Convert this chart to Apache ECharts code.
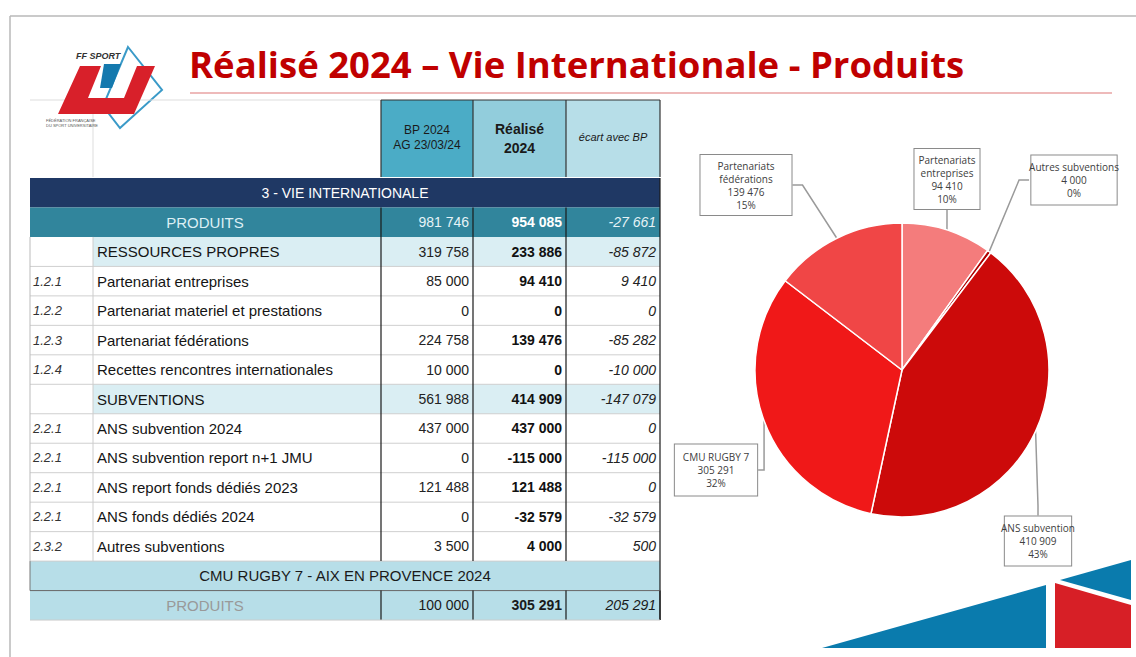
<!DOCTYPE html>
<html>
<head>
<meta charset="utf-8">
<script src="https://cdn.jsdelivr.net/npm/echarts@6/dist/echarts.min.js"></script>
<style>
  html, body { margin: 0; padding: 0; background: #fff; }
  #chart { width: 1136px; height: 657px; }
</style>
</head>
<body>
<div id="chart"></div>
<script>
// Données du tableau
const itemCodes = ['', '1.2.1', '1.2.2', '1.2.3', '1.2.4', '', '2.2.1', '2.2.1', '2.2.1', '2.2.1', '2.3.2'];
const itemLabels = [
  'RESSOURCES PROPRES',
  'Partenariat entreprises',
  'Partenariat materiel et prestations',
  'Partenariat fédérations',
  'Recettes rencontres internationales',
  'SUBVENTIONS',
  'ANS subvention 2024',
  'ANS subvention report n+1 JMU',
  'ANS report fonds dédiés 2023',
  'ANS fonds dédiés 2024',
  'Autres subventions'
];
const itemBP = [319758, 85000, 0, 224758, 10000, 561988, 437000, 0, 121488, 0, 3500];
const itemRealise = [233886, 94410, 0, 139476, 0, 414909, 437000, -115000, 121488, -32579, 4000];
const itemEcart = [-85872, 9410, 0, -85282, -10000, -147079, 0, -115000, 0, -32579, 500];
const subtotalIdx = [0, 5];
const totalProduits = [981746, 954085, -27661];
const cmuProduits = [100000, 305291, 205291];

// Données du camembert
const pieNames = ['Partenariats\nentreprises', 'Autres subventions', 'ANS subvention', 'CMU RUGBY 7', 'Partenariats\nfédérations'];
const pieValues = [94410, 4000, 410909, 305291, 139476];
const pieColors = ['#F47C7C', '#B00000', '#CC0A0A', '#F01818', '#F04646'];
// position et marges des cadres d'étiquettes
const labelPos = [[947, 179], [1074, 180], [1038, 541], [716, 470], [746, 185]];
const labelPad = [[4, 4], [5, 5], [5, 10], [6, 8], [4, 17]];

const fmt = (n) => {
  const s = Math.abs(n).toString().replace(/\B(?=(\d{3})+(?!\d))/g, ' ');
  return (n < 0 ? '-' : '') + s;
};

// Géométrie du tableau
const colX = [30, 93, 381, 473, 566, 660];
const headTop = 100, headBottom = 177;
const rowTop = 178, rowH = 29.47;
const ry = (i) => rowTop + i * rowH;

const els = [];
const rect = (x, y, w, h, fill, z) => els.push({ type: 'rect', z: z || 1, shape: { x, y, width: w, height: h }, style: { fill } });
const line = (x1, y1, x2, y2, stroke, w, z) => els.push({ type: 'line', z: z || 3, shape: { x1, y1, x2, y2 }, style: { stroke, lineWidth: w || 1 } });
const text = (x, y, t, font, fill, align) => els.push({
  type: 'text', z: 5, x, y,
  style: { text: t, font, fill, textAlign: align || 'left', textVerticalAlign: 'middle' }
});

// cadre de la diapositive
line(10, 16, 1136, 16, '#b8b8b8', 1.5);
line(10, 16, 10, 657, '#b8b8b8', 1.5);

// titre
text(189, 64, 'Réalisé 2024 – Vie Internationale - Produits', 'bold 36.5px "Open Sans"', '#C00000');
line(190, 93, 1112, 93, '#E8A3A3', 1.5);

// logo FF SPORT U
els.push({ type: 'polygon', z: 2, shape: { points: [[128, 47], [162, 90], [120, 128], [103, 106]] }, style: { fill: 'none', stroke: '#3A9AC8', lineWidth: 2 } });
els.push({ type: 'polygon', z: 3, shape: { points: [[80, 66], [101, 66], [88, 98], [124, 98], [137, 66], [155, 66], [134, 114], [58, 114]] }, style: { fill: '#D8202A' } });
els.push({ type: 'polygon', z: 4, shape: { points: [[104, 64], [121, 64], [112, 88], [100, 88]] }, style: { fill: '#1479AE' } });
text(76, 56, 'FF SPORT', 'italic bold 9px "Liberation Sans"', '#333');
text(46, 120, 'FÉDÉRATION FRANÇAISE', '4px "Liberation Sans"', '#555');
text(46, 125, 'DU SPORT UNIVERSITAIRE', '4px "Liberation Sans"', '#555');

// en-tête du tableau
line(30, headTop, colX[2], headTop, '#dddddd', 1, 2);
line(colX[1], headTop, colX[1], headBottom, '#dddddd', 1, 2);
rect(colX[2], headTop, colX[3] - colX[2], headBottom - headTop, '#4BACC6');
rect(colX[3], headTop, colX[4] - colX[3], headBottom - headTop, '#92CDDC');
rect(colX[4], headTop, colX[5] - colX[4], headBottom - headTop, '#B7DEE8');
line(colX[2], headTop, colX[5], headTop, '#333', 1);
[2, 3, 4, 5].forEach(c => line(colX[c], headTop, colX[c], headBottom, '#333', 1.2));
text((colX[2] + colX[3]) / 2, 130, 'BP 2024', '12px "Liberation Sans"', '#1a1a1a', 'center');
text((colX[2] + colX[3]) / 2, 145, 'AG 23/03/24', '12px "Liberation Sans"', '#1a1a1a', 'center');
text((colX[3] + colX[4]) / 2, 129, 'Réalisé', 'bold 14px "Liberation Sans"', '#1a1a1a', 'center');
text((colX[3] + colX[4]) / 2, 148, '2024', 'bold 14px "Liberation Sans"', '#1a1a1a', 'center');
text((colX[4] + colX[5]) / 2, 137, 'écart avec BP', 'italic 11px "Liberation Sans"', '#1a1a1a', 'center');

// ligne 3 - VIE INTERNATIONALE
rect(30, ry(0), 630, rowH, '#1F3864');
text(345, ry(0) + rowH / 2, '3 - VIE INTERNATIONALE', '14px "Liberation Sans"', '#ffffff', 'center');

// ligne PRODUITS
rect(30, ry(1), 630, rowH, '#31859C');
text(205, ry(1) + rowH / 2, 'PRODUITS', '15px "Liberation Sans"', '#DCEFF5', 'center');
const valFonts = ['14px "Liberation Sans"', 'bold 14px "Liberation Sans"', 'italic 14px "Liberation Sans"'];
totalProduits.forEach((v, k) => text(colX[k + 3] - 4, ry(1) + rowH / 2, fmt(v), valFonts[k], k === 1 ? '#ffffff' : '#E6F3F7', 'right'));
[2, 3, 4].forEach(c => line(colX[c], ry(1), colX[c], ry(2), '#1a1a1a', 1.2));

// lignes de détail
itemLabels.forEach((lab, i) => {
  const r = i + 2;
  const y = ry(r), cy = y + rowH / 2;
  const sub = subtotalIdx.includes(i);
  if (sub) rect(colX[1], y, colX[5] - colX[1], rowH, '#DAEEF3');
  line(30, y + rowH, 660, y + rowH, '#cfcfcf', 1, 2);
  text(33, cy, itemCodes[i], 'italic 13px "Liberation Sans"', '#333');
  text(97, cy, lab, '15px "Liberation Sans"', '#151515');
  text(colX[3] - 4, cy, fmt(itemBP[i]), valFonts[0], '#222', 'right');
  text(colX[4] - 4, cy, fmt(itemRealise[i]), valFonts[1], '#111', 'right');
  text(colX[5] - 4, cy, fmt(itemEcart[i]), valFonts[2], '#222', 'right');
});
const detailTop = ry(2), detailBottom = ry(2 + itemLabels.length);
line(30, detailTop, 30, detailBottom, '#bbbbbb', 1);
line(colX[1], detailTop, colX[1], detailBottom, '#cccccc', 1);
[2, 3, 4].forEach(c => line(colX[c], detailTop, colX[c], detailBottom, '#1a1a1a', 1.2));
line(colX[5], ry(0), colX[5], ry(15), '#1a1a1a', 1.2);

// CMU RUGBY 7
const cmuRow = 2 + itemLabels.length;
rect(30, ry(cmuRow), 630, rowH, '#B7DEE8');
line(30, ry(cmuRow), 30, ry(cmuRow + 1), '#777', 1);
line(30, ry(cmuRow + 1), 660, ry(cmuRow + 1), '#666', 1);
text(345, ry(cmuRow) + rowH / 2, 'CMU RUGBY 7 - AIX EN PROVENCE 2024', '15px "Liberation Sans"', '#1a1a1a', 'center');
rect(30, ry(cmuRow + 1), 630, rowH, '#B7DEE8');
text(205, ry(cmuRow + 1) + rowH / 2, 'PRODUITS', '15px "Liberation Sans"', '#999999', 'center');
cmuProduits.forEach((v, k) => text(colX[k + 3] - 4, ry(cmuRow + 1) + rowH / 2, fmt(v), valFonts[k], '#1a1a1a', 'right'));
[2, 3, 4, 5].forEach(c => line(colX[c], ry(cmuRow + 1), colX[c], ry(cmuRow + 2), '#1a1a1a', 1.2));
line(30, ry(cmuRow + 2), 660, ry(cmuRow + 2), '#cccccc', 1);

// décor bas droite
els.push({ type: 'polygon', z: 1, shape: { points: [[822, 648], [1046, 585], [1046, 648]] }, style: { fill: '#0A7BAD' } });
els.push({ type: 'polygon', z: 1, shape: { points: [[1055, 583], [1131, 605], [1131, 648], [1055, 648]] }, style: { fill: '#D71F26' } });
els.push({ type: 'polygon', z: 1, shape: { points: [[1060, 580], [1131, 560], [1131, 600]] }, style: { fill: '#0A7BAD' } });

const chart = echarts.init(document.getElementById('chart'), null, { renderer: 'svg' });

const option = {
  backgroundColor: '#ffffff',
  animation: false,
  graphic: { elements: els },
  series: [
    {
      type: 'pie',
      center: [902, 370],
      radius: 147,
      startAngle: 90,
      clockwise: true,
      percentPrecision: 0,
      itemStyle: { borderColor: '#ffffff', borderWidth: 1.5 },
      data: pieNames.map((n, i) => ({
        name: n,
        value: pieValues[i],
        itemStyle: { color: pieColors[i] },
        label: { padding: labelPad[i] }
      })),
      label: {
        show: true,
        formatter: (p) => `${p.name}\n${fmt(p.value)}\n${Math.round(p.percent)}%`,
        fontFamily: '"Open Sans"',
        fontSize: 10,
        lineHeight: 13,
        color: '#404040',
        align: 'center',
        overflow: 'none',
        backgroundColor: '#ffffff',
        borderColor: '#8a8a8a',
        borderWidth: 1
      },
      labelLine: {
        show: true,
        length: 10,
        length2: 10,
        lineStyle: { color: '#9a9a9a', width: 1.5 }
      },
      labelLayout: (params) => ({
        x: labelPos[params.dataIndex][0],
        y: labelPos[params.dataIndex][1],
        align: 'center',
        verticalAlign: 'middle'
      })
    }
  ]
};

chart.setOption(option);
</script>
</body>
</html>
